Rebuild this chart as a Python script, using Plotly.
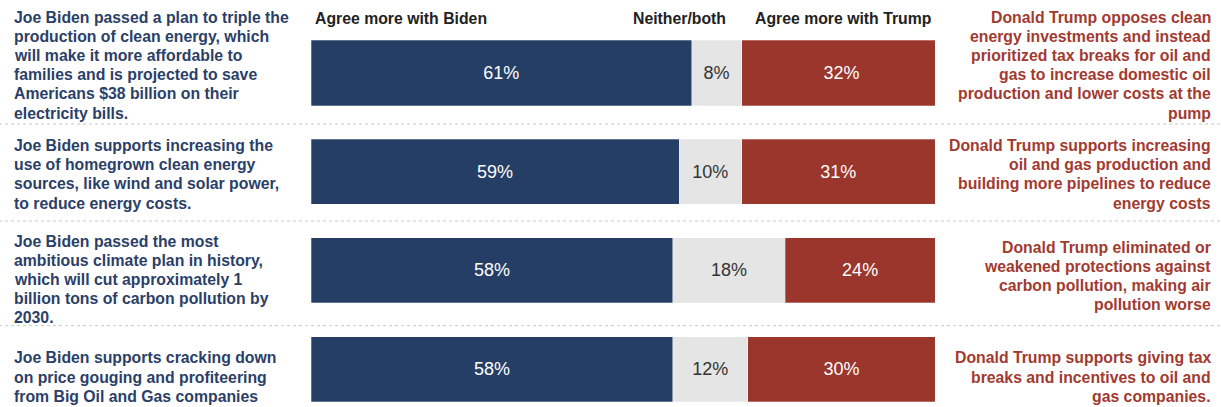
import plotly.graph_objects as go

rows = [0, 1, 2, 3]
biden = [61, 59, 58, 58]
neither = [8, 10, 18, 12]
trump = [32, 31, 24, 30]

biden_text = [
    ["Joe Biden passed a plan to triple the", "production of clean energy, which",
     "will make it more affordable to", "families and is projected to save",
     "Americans $38 billion on their", "electricity bills."],
    ["Joe Biden supports increasing the", "use of homegrown clean energy",
     "sources, like wind and solar power,", "to reduce energy costs."],
    ["Joe Biden passed the most", "ambitious climate plan in history,",
     "which will cut approximately 1", "billion tons of carbon pollution by", "2030."],
    ["Joe Biden supports cracking down", "on price gouging and profiteering",
     "from Big Oil and Gas companies"],
]
trump_text = [
    ["Donald Trump opposes clean", "energy investments and instead",
     "prioritized tax breaks for oil and", "gas to increase domestic oil",
     "production and lower costs at the", "pump"],
    ["Donald Trump supports increasing", "oil and gas production and",
     "building more pipelines to reduce", "energy costs"],
    ["Donald Trump eliminated or", "weakened protections against",
     "carbon pollution, making air", "pollution worse"],
    ["Donald Trump supports giving tax", "breaks and incentives to oil and",
     "gas companies."],
]
headers = ["Agree more with Biden", "Neither/both", "Agree more with Trump"]

FONT = "Liberation Sans, Arial, sans-serif"
NAVY = "#253e65"
GREY = "#e5e5e5"
RED = "#9b362d"
BIDEN_TXT = "#2b3f68"
TRUMP_TXT = "#a23a30"

fig = go.Figure()
for vals, color, tcol, name in [(biden, NAVY, "white", headers[0]),
                                (neither, GREY, "#333333", headers[1]),
                                (trump, RED, "white", headers[2])]:
    fig.add_trace(go.Bar(
        y=rows, x=vals, orientation="h", name=name,
        marker=dict(color=color, line=dict(width=0.8, color="rgba(255,255,255,0.35)")),
        width=0.66,
        text=[f"{v}%" for v in vals], textposition="inside",
        insidetextanchor="middle", textangle=0, constraintext="none",
        textfont=dict(family=FONT, size=18, color=tcol),
        hoverinfo="skip",
    ))

fig.update_layout(
    barmode="stack",
    width=1221, height=407,
    margin=dict(l=311, r=286, t=0, b=0),
    paper_bgcolor="white", plot_bgcolor="white",
    showlegend=False,
    xaxis=dict(range=[0, 100], visible=False, fixedrange=True),
    yaxis=dict(range=[3.384, -0.74], visible=False, fixedrange=True),
    font=dict(family=FONT),
)

# column headers
for txt, x, anchor in [(headers[0], 0.004, "left"), (headers[1], 0.668, "right"),
                       (headers[2], 0.708, "left")]:
    fig.add_annotation(x=x, xref="paper", y=-0.55, yref="y", text=f"<b>{txt}</b>",
                       showarrow=False, xanchor=anchor, yanchor="middle",
                       font=dict(family=FONT, size=15.8, color="#222222"))

LINE = 19.2
left_center = [-8, 2.5, 9, 8]
right_center = [-8, 2.5, 5.5, 8]
for i, r in enumerate(rows):
    for lines, centers, x, anchor, col in [
        (biden_text[i], left_center, -0.479, "left", BIDEN_TXT),
        (trump_text[i], right_center, 1.4455, "right", TRUMP_TXT),
    ]:
        n = len(lines)
        for j, ln in enumerate(lines):
            off = centers[i] + (j - (n - 1) / 2) * LINE
            fig.add_annotation(x=x, xref="paper", y=r, yref="y", text=f"<b>{ln}</b>",
                               showarrow=False, xanchor=anchor, yanchor="middle",
                               yshift=-off,
                               font=dict(family=FONT, size=15.8, color=col))

for ysep in [0.517, 1.5, 2.56]:
    fig.add_shape(type="line", xref="paper", x0=-0.5, x1=1.46, yref="y", y0=ysep, y1=ysep,
                  line=dict(color="#c8c8c8", width=1, dash="dot"))

fig.write_html("out.html", config={"displayModeBar": False},
               post_script="document.body.style.margin='0';document.body.style.overflow='hidden';")
